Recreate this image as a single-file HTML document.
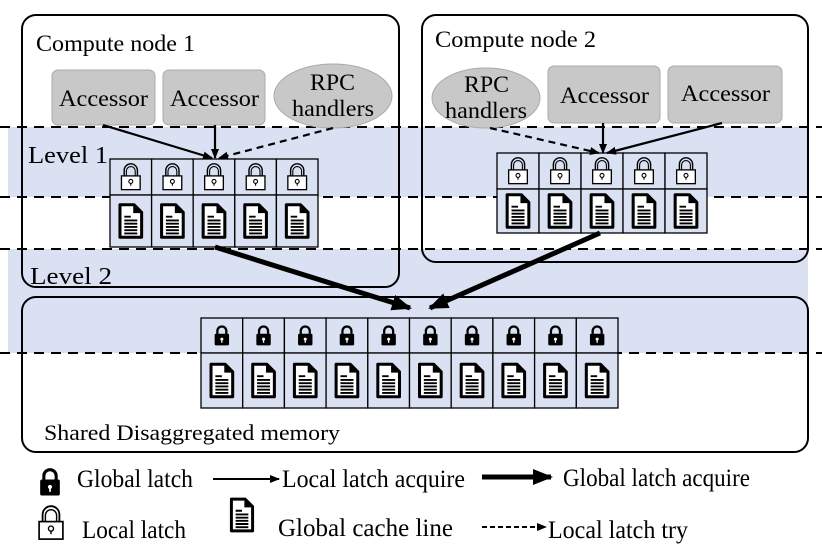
<!DOCTYPE html>
<html><head><meta charset="utf-8"><style>
body{margin:0;background:#fff}
svg{display:block}
text{font-family:"Liberation Serif",serif;fill:#000}
</style></head><body>
<svg id="s" width="822" height="552" viewBox="0 0 822 552" xmlns="http://www.w3.org/2000/svg">
<defs>
<symbol id="ll" viewBox="0 0 20 26"><path d="M4 12 V7 a6 6 0 0 1 12 0 V12" fill="none" stroke="#000" stroke-width="1.3"/><path d="M6 12 V7.5 a4 4 0 0 1 8 0 V12" fill="none" stroke="#000" stroke-width="1"/><rect x="1.5" y="12" width="17" height="12.5" fill="#fff" stroke="#000" stroke-width="1.2"/><circle cx="10" cy="17" r="1.8" fill="none" stroke="#000"/><path d="M10 18.8V21" stroke="#000"/></symbol>
<symbol id="gl" viewBox="0 0 20 26"><path d="M5 12 V8 a5 5 0 0 1 10 0 V12" fill="none" stroke="#000" stroke-width="2.5"/><rect x="2" y="11" width="16" height="13" rx="1.5" fill="#000"/><circle cx="10" cy="17" r="1.7" fill="#fff"/><path d="M10 17V21" stroke="#fff" stroke-width="1.4"/></symbol>
<symbol id="doc" viewBox="0 0 24 34"><path d="M2 2 H15 L22 9 V32 H2 Z" fill="#fff" stroke="#000" stroke-width="2.8" stroke-linejoin="round"/><path d="M15 2 V9 H22" fill="#000" stroke="#000" stroke-width="1.5"/><g stroke="#000" stroke-width="1.8"><path d="M6 13H12M6 16.5H18M6 19.5H18M6 22.5H18M6 25.5H18M6 28.5H18"/></g></symbol>
<marker id="ah" markerWidth="10" markerHeight="8" refX="9" refY="4" orient="auto" markerUnits="userSpaceOnUse"><path d="M0 0L10 4L0 8Z" fill="#000"/></marker>
<marker id="ah2" markerWidth="20" markerHeight="16" refX="18" refY="8" orient="auto" markerUnits="userSpaceOnUse"><path d="M0 0L20 8L0 16Z" fill="#000"/></marker>
</defs>
<rect x="8" y="127" width="800" height="70" fill="#d9e1f2"/>
<rect x="8" y="249" width="800" height="104" fill="#d9e1f2"/>
<rect x="22" y="15" width="377" height="272" rx="14" fill="none" stroke="#000" stroke-width="2"/>
<rect x="422" y="15" width="386" height="247" rx="14" fill="none" stroke="#000" stroke-width="2"/>
<rect x="22" y="297" width="786" height="155" rx="14" fill="none" stroke="#000" stroke-width="2"/>
<g stroke="#000" stroke-width="2" stroke-dasharray="10,7">
<line x1="0" y1="127" x2="822" y2="127"/><line x1="0" y1="197" x2="822" y2="197"/>
<line x1="0" y1="249" x2="822" y2="249"/><line x1="0" y1="353" x2="822" y2="353"/></g>
<g font-size="23">
<text x="36" y="51" textLength="159" lengthAdjust="spacingAndGlyphs">Compute node 1</text>
<text x="435" y="47" textLength="161" lengthAdjust="spacingAndGlyphs">Compute node 2</text>
<text x="28" y="163" font-size="24" textLength="80" lengthAdjust="spacingAndGlyphs">Level 1</text>
<text x="30" y="284" font-size="24" textLength="82" lengthAdjust="spacingAndGlyphs">Level 2</text>
</g>
<text x="44" y="440" font-size="22" textLength="296" lengthAdjust="spacingAndGlyphs">Shared Disaggregated memory</text>
<g fill="#c8c8c8" stroke="#aaa">
<rect x="52" y="70" width="103" height="55" rx="6"/><rect x="163" y="70" width="102" height="55" rx="6"/>
<ellipse cx="333" cy="96" rx="59" ry="32"/>
<ellipse cx="486" cy="98" rx="54" ry="30"/>
<rect x="548" y="66" width="112" height="57" rx="6"/><rect x="668" y="66" width="114" height="57" rx="6"/></g>
<g font-size="23">
<text x="59" y="106" textLength="89" lengthAdjust="spacingAndGlyphs">Accessor</text>
<text x="170" y="106" textLength="89" lengthAdjust="spacingAndGlyphs">Accessor</text>
<text x="310" y="90" textLength="45" lengthAdjust="spacingAndGlyphs">RPC</text>
<text x="292" y="116" textLength="82" lengthAdjust="spacingAndGlyphs">handlers</text>
<text x="464" y="92" textLength="45" lengthAdjust="spacingAndGlyphs">RPC</text>
<text x="445" y="118" textLength="82" lengthAdjust="spacingAndGlyphs">handlers</text>
<text x="560" y="103" textLength="89" lengthAdjust="spacingAndGlyphs">Accessor</text>
<text x="681" y="101" textLength="89" lengthAdjust="spacingAndGlyphs">Accessor</text></g>
<g id="grids"></g>
<g stroke="#000" stroke-width="2.2" fill="none">
<line x1="103" y1="125" x2="212" y2="158" marker-end="url(#ah)"/>
<line x1="215" y1="125" x2="215" y2="158" marker-end="url(#ah)"/>
<line x1="333" y1="128" x2="219" y2="158" stroke-dasharray="7,5" marker-end="url(#ah)"/>
<line x1="490" y1="128" x2="599" y2="153" stroke-dasharray="7,5" marker-end="url(#ah)"/>
<line x1="603" y1="123" x2="603" y2="153" marker-end="url(#ah)"/>
<line x1="722" y1="123" x2="607" y2="153" marker-end="url(#ah)"/>
<line x1="215" y1="247" x2="410" y2="308" stroke-width="5" marker-end="url(#ah2)"/>
<line x1="600" y1="233" x2="430" y2="308" stroke-width="5" marker-end="url(#ah2)"/>
</g>
<g font-size="25">
<use href="#gl" x="37" y="466" width="26" height="32"/>
<text x="77" y="487" textLength="116" lengthAdjust="spacingAndGlyphs">Global latch</text>
<line x1="213" y1="479" x2="279" y2="479" stroke="#000" stroke-width="2" marker-end="url(#ah)"/>
<text x="282" y="487" textLength="183" lengthAdjust="spacingAndGlyphs">Local latch acquire</text>
<line x1="482" y1="477" x2="551" y2="477" stroke="#000" stroke-width="5" marker-end="url(#ah2)"/>
<text x="563" y="486" textLength="187" lengthAdjust="spacingAndGlyphs">Global latch acquire</text>
<use href="#ll" x="37" y="503" width="28" height="40"/>
<text x="82" y="538" textLength="104" lengthAdjust="spacingAndGlyphs">Local latch</text>
<use href="#doc" x="227" y="497" width="30" height="36"/>
<text x="278" y="536" textLength="175" lengthAdjust="spacingAndGlyphs">Global cache line</text>
<line x1="482" y1="527" x2="546" y2="527" stroke="#000" stroke-width="2" stroke-dasharray="5,3" marker-end="url(#ah)"/>
<text x="548" y="538" textLength="140" lengthAdjust="spacingAndGlyphs">Local latch try</text>
</g>
</svg>
<script>
var g=document.getElementById('grids'),h='';
function grid(x0,y0,n,w,h1,h2,lock){
 for(var i=0;i<n;i++){var x=x0+i*w;
  h+='<rect x="'+x+'" y="'+y0+'" width="'+w+'" height="'+h1+'" fill="#d9e1f2" stroke="#000" stroke-width="1.3"/>';
  h+='<rect x="'+x+'" y="'+(y0+h1)+'" width="'+w+'" height="'+h2+'" fill="#d9e1f2" stroke="#000" stroke-width="1.3"/>';
  var lw=lock=='gl'?18:22;
  h+='<use href="#'+lock+'" x="'+(x+(w-lw)/2)+'" y="'+(y0+(h1-lw*1.3)/2)+'" width="'+lw+'" height="'+(lw*1.3)+'"/>';
  h+='<use href="#doc" x="'+(x+w/2-13)+'" y="'+(y0+h1+(h2-38)/2)+'" width="26" height="38"/>';
 }}
grid(110,159,5,41.6,36,52,'ll');
grid(497,153,5,42,36,44,'ll');
grid(201,318,10,41.7,35,55,'gl');
g.innerHTML=h;
</script>
</body></html>
